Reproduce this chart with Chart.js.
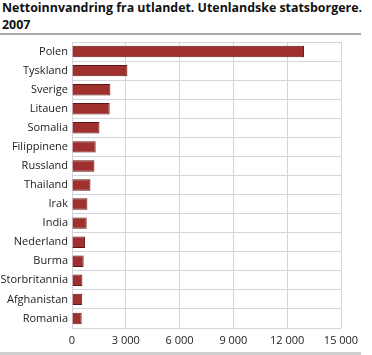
<!DOCTYPE html>
<html>
<head>
<meta charset="utf-8">
<script src="https://cdn.jsdelivr.net/npm/chart.js@4"></script>
<style>
  html, body { margin: 0; padding: 0; background: #fff; }
  #wrap { position: relative; width: 372px; height: 355px; overflow: hidden; }
  #title { position: absolute; left: 2px; top: -1px; font-family: "Open Sans", sans-serif; font-weight: bold;
           font-size: 13px; line-height: 17px; color: #111; white-space: nowrap; transform-origin: 0 0; }
  #topline { position: absolute; left: 0; top: 33px; width: 361px; height: 2px; background: #a8a8a8; }
  #botline { position: absolute; left: 0; top: 352px; width: 361px; height: 3px; background: #cfcfcf; }
  canvas { position: absolute; left: 0; top: 0; }
</style>
</head>
<body>
<div id="wrap">
  <div id="title"><span id="t1">Nettoinnvandring fra utlandet. Utenlandske statsborgere.</span><br>2007</div>
  <div id="topline"></div>
  <canvas id="chart" width="372" height="355"></canvas>
  <div id="botline"></div>
</div>
<script>
const countries = ['Polen', 'Tyskland', 'Sverige', 'Litauen', 'Somalia', 'Filippinene', 'Russland',
  'Thailand', 'Irak', 'India', 'Nederland', 'Burma', 'Storbritannia', 'Afghanistan', 'Romania'];
const netImmigration = [12940, 3090, 2140, 2100, 1530, 1320, 1250, 1030, 860, 820, 730, 650, 580, 570, 540];
const xTicks = [0, 3000, 6000, 9000, 12000, 15000];

function fmt(v) {
  return String(v).replace(/\B(?=(\d{3})+(?!\d))/g, '\u00a0');
}

window.onload = function() {
  // squeeze the title to the width of the original
  const t1 = document.getElementById('t1');
  const w = t1.getBoundingClientRect().width;
  document.getElementById('title').style.transform = 'scaleX(' + (360 / w) + ')';

  const ctx = document.getElementById('chart').getContext('2d');
  const chart = new Chart(ctx, {
    type: 'bar',
    data: {
      labels: countries,
      datasets: [{
        data: netImmigration,
        backgroundColor: '#a0302d',
        borderColor: '#5e1715',
        borderWidth: 1,
        barPercentage: 0.6,
        categoryPercentage: 1
      }]
    },
    options: {
      indexAxis: 'y',
      responsive: false,
      animation: false,
      layout: { padding: { top: 42, right: 31, bottom: 7, left: 0 } },
      plugins: {
        legend: { display: false },
        tooltip: { enabled: false }
      },
      scales: {
        x: {
          min: 0,
          max: 15000,
          afterBuildTicks: function(s) { s.ticks = xTicks.map(v => ({ value: v })); },
          afterFit: function(s) { s.height = 20; },
          grid: { color: '#d4d4dc', drawTicks: false },
          border: { display: false },
          ticks: {
            padding: 6,
            color: '#222',
            font: { family: 'Open Sans', size: 11 },
            callback: v => fmt(v)
          }
        },
        y: {
          afterFit: function(s) { s.width = 72; },
          grid: { color: '#d4d4dc', drawTicks: false, offset: true },
          border: { color: '#d4d4dc' },
          ticks: {
            padding: 4,
            color: '#222',
            font: { family: 'Open Sans', size: 11 }
          }
        }
      }
    }
  });
};
</script>
</body>
</html>
